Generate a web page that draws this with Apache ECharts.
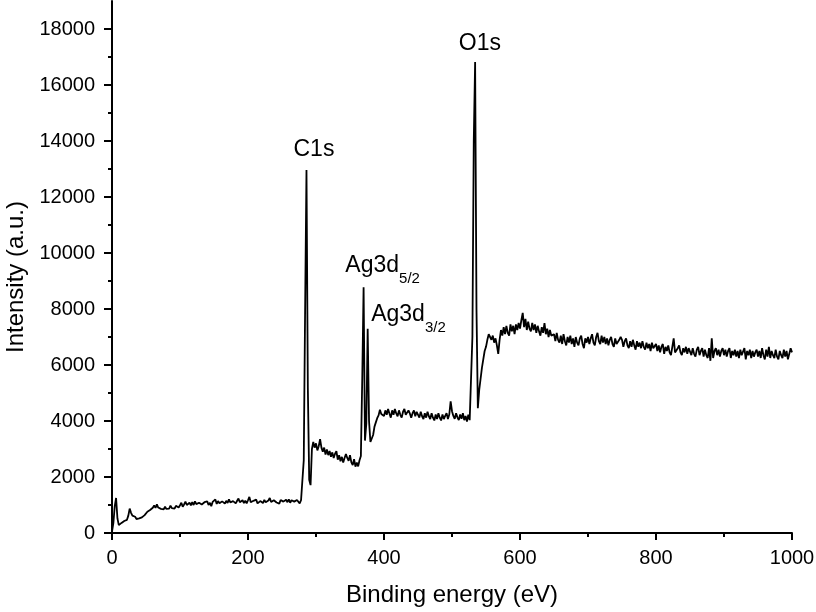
<!DOCTYPE html>
<html>
<head>
<meta charset="utf-8">
<script src="https://cdn.jsdelivr.net/npm/echarts@6/dist/echarts.min.js"></script>
<style>
    html, body { margin: 0; padding: 0; background: #fff; }
    #xps { width: 816px; height: 612px; }
</style>
</head>
<body>
<div id="xps"></div>
<script>
// survey spectrum, one reading every 2 eV from 0 to 1000 eV
var energyStart = 0;
var energyStep = 2;
var counts = [
    // 0 - 48
    50, 350, 950, 1250, 520, 280, 300, 360, 400, 430, 450, 470, 620, 870, 720, 620, 560, 580, 500, 470, 520, 500, 560, 610, 640,
    // 50 - 98
    700, 760, 720, 820, 860, 900, 980, 900, 1020, 910, 970, 860, 920, 840, 940, 860, 920, 870, 980, 890, 940, 870, 970, 1010, 910,
    // 100 - 148
    990, 1080, 940, 1020, 1120, 1000, 970, 1080, 990, 1100, 1000, 1130, 1030, 970, 1080, 1150, 1020, 990, 1100, 1040, 1130, 1000, 1080, 960, 1110,
    // 150 - 198
    1110, 1200, 1040, 1140, 1060, 1030, 1130, 1170, 1050, 1150, 1070, 1200, 1090, 1020, 1140, 1180, 1060, 1150, 1230, 1100, 1040, 1170, 1070, 1150, 1060,
    // 200 - 248
    1170, 1290, 1100, 1040, 1150, 1090, 1190, 1060, 1030, 1140, 1170, 1070, 1180, 1100, 1060, 1160, 1250, 1110, 1040, 1170, 1210, 1090, 1150, 1050, 1180,
    // 250 - 298 (C1s)
    1220, 1120, 1070, 1190, 1100, 1200, 1080, 1170, 1240, 1120, 1070, 1180, 1110, 1060, 1170, 1160, 2600, 8000, 12960, 5200, 1900, 1710, 3000, 3250, 3050,
    // 300 - 348
    3200, 2950, 3100, 3350, 3050, 2900, 3050, 2800, 2980, 2780, 2930, 2720, 2880, 2680, 2830, 2920, 2620, 2780, 2560, 2720, 2520, 2680, 2820, 2680, 2580,
    // 350 - 398 (Ag3d)
    2780, 2520, 2430, 2640, 2370, 2520, 2380, 2600, 2750, 5500, 8780, 3300, 3900, 7290, 4000, 3250, 3200, 3500, 3800, 3950, 4100, 4200, 4400, 4250, 4300,
    // 400 - 448
    4180, 4380, 4220, 4430, 4270, 4120, 4380, 4220, 4430, 4270, 4170, 4380, 4220, 4120, 4330, 4430, 4220, 4170, 4380, 4270, 4120, 4280, 4380, 4170, 4330,
    // 450 - 498
    4280, 4120, 4330, 4170, 4070, 4280, 4120, 4330, 4170, 4070, 4280, 4120, 4020, 4230, 4070, 4280, 4120, 4020, 4230, 4070, 4180, 4280, 4070, 4230, 4700,
    // 500 - 548 (O1s)
    4350, 4180, 4080, 4280, 4130, 4030, 4230, 4080, 4280, 4030, 4180, 3980, 4230, 4030, 4100, 7000, 14000, 16820, 8000, 4460, 5100, 5500, 5900, 6200, 6500,
    // 550 - 598
    6650, 6900, 7100, 7000, 6900, 7050, 6800, 6950, 6700, 6400, 6900, 7250, 7050, 7350, 7100, 7400, 7150, 7050, 7450, 7200, 7400, 7100, 7450, 7250, 7500,
    // 600 - 648
    7300, 7600, 7860, 7350, 7650, 7250, 7550, 7300, 7200, 7500, 7250, 7450, 7150, 7400, 7200, 7050, 7350, 7150, 7500, 7100, 7300, 7000, 7250, 7050, 7000,
    // 650 - 698
    7100, 6850, 7150, 6900, 6800, 7050, 6750, 7100, 6850, 6700, 7000, 6800, 7050, 6750, 6950, 6650, 7000, 6800, 6700, 6950, 7050, 6750, 6600, 6950, 6800,
    // 700 - 748
    7000, 6750, 6950, 7100, 6800, 6700, 7000, 7150, 6850, 6750, 7050, 6800, 7000, 6750, 6950, 6700, 6900, 7000, 6750, 6650, 6950, 6750, 6700, 6900, 7000,
    // 750 - 798
    6900, 6650, 6850, 6950, 6700, 6600, 6850, 6650, 6900, 6700, 6550, 6850, 6650, 6800, 6600, 6850, 6650, 6550, 6800, 6600, 6750, 6500, 6800, 6600, 6550,
    // 800 - 848
    6750, 6500, 6700, 6450, 6650, 6750, 6400, 6650, 6500, 6700, 6450, 6350, 6650, 6950, 6450, 6400, 6600, 6700, 6450, 6350, 6600, 6450, 6650, 6400, 6600,
    // 850 - 898
    6550, 6350, 6600, 6400, 6300, 6550, 6650, 6350, 6500, 6600, 6300, 6550, 6350, 6250, 6600, 6150, 6950, 6250, 6500, 6600, 6350, 6550, 6300, 6500, 6600,
    // 900 - 948
    6350, 6550, 6300, 6500, 6600, 6250, 6500, 6350, 6550, 6300, 6500, 6250, 6550, 6350, 6300, 6600, 6200, 6500, 6350, 6550, 6250, 6500, 6300, 6450, 6550,
    // 950 - 998
    6300, 6500, 6250, 6600, 6350, 6200, 6550, 6300, 6650, 6250, 6500, 6350, 6250, 6550, 6300, 6200, 6500, 6350, 6250, 6550, 6300, 6500, 6200, 6400, 6600,
    // 1000
    6450
];

var yTicks = [0, 2000, 4000, 6000, 8000, 10000, 12000, 14000, 16000, 18000];
var yMinorTicks = [1000, 3000, 5000, 7000, 9000, 11000, 13000, 15000, 17000];

// peak names and where their text sits (eV, counts)
var peakNames = ['C1s', 'Ag3d|5/2', 'Ag3d|3/2', 'O1s'];
var peakTextAt = [[297, 13540], [398, 9390], [436, 7640], [541, 17320]];

var spectrum = [];
$each = function (arr, fn) { for (var i = 0; i < arr.length; i++) fn(i, arr[i]); };
$each(counts, function (i, v) {
    spectrum.push([energyStart + i * energyStep, v]);
});

var peakLabels = [];
$each(peakNames, function (i, n) {
    var parts = n.split('|');
    var text = parts.length > 1 ? '{a|' + parts[0] + '}{s|' + parts[1] + '}' : '{a|' + parts[0] + '}';
    peakLabels.push({ name: n, coord: peakTextAt[i], value: text });
});

var fontFamily = '"Liberation Sans", Arial, Helvetica, sans-serif';
var plain = function (v) { return String(v); };

var myChart = echarts.init(document.getElementById('xps'));

var option = {
    animation: false,
    backgroundColor: '#ffffff',
    textStyle: { fontFamily: fontFamily, color: '#000' },
    grid: {
        left: 112,
        right: 24,
        top: 1,
        bottom: 79,
        outerBoundsMode: 'none'
    },
    xAxis: {
        type: 'value',
        min: 0,
        max: 1000,
        interval: 200,
        name: 'Binding energy (eV)',
        nameLocation: 'middle',
        nameGap: 50,
        nameTextStyle: { fontSize: 24, color: '#000', fontFamily: fontFamily },
        axisLine: { lineStyle: { color: '#000', width: 2 } },
        axisTick: { length: 7, lineStyle: { color: '#000', width: 2 } },
        minorTick: { show: true, splitNumber: 2, length: 4, lineStyle: { color: '#000', width: 2 } },
        axisLabel: { fontSize: 20, color: '#000', margin: 15, fontFamily: fontFamily, formatter: plain },
        splitLine: { show: false },
        minorSplitLine: { show: false }
    },
    yAxis: [
        {
            type: 'value',
            min: 0,
            max: 19000,
            name: 'Intensity (a.u.)',
            nameLocation: 'middle',
            nameGap: 80,
            nameTextStyle: { fontSize: 24, color: '#000', fontFamily: fontFamily, padding: [0, 20, 0, 0] },
            axisLine: { show: true, lineStyle: { color: '#000', width: 2 } },
            axisTick: { show: true, length: 8, customValues: yTicks, lineStyle: { color: '#000', width: 2 } },
            axisLabel: { fontSize: 20, color: '#000', margin: 17, customValues: yTicks, fontFamily: fontFamily, formatter: plain },
            splitLine: { show: false }
        },
        {
            type: 'value',
            min: 0,
            max: 19000,
            position: 'left',
            axisLine: { show: false },
            axisTick: { show: true, length: 4, customValues: yMinorTicks, lineStyle: { color: '#000', width: 2 } },
            axisLabel: { show: false },
            splitLine: { show: false }
        }
    ],
    series: [
        {
            name: 'XPS',
            type: 'line',
            data: spectrum,
            showSymbol: false,
            symbol: 'none',
            lineStyle: { color: '#000', width: 1.8 },
            markPoint: {
                symbol: 'circle',
                symbolSize: 0,
                silent: true,
                label: {
                    show: true,
                    position: 'inside',
                    formatter: function (p) { return p.value; },
                    rich: {
                        a: { fontSize: 23, lineHeight: 32, verticalAlign: 'top', color: '#000', fontFamily: fontFamily },
                        s: { fontSize: 15, lineHeight: 10, verticalAlign: 'bottom', color: '#000', fontFamily: fontFamily }
                    }
                },
                data: peakLabels
            }
        }
    ]
};

myChart.setOption(option, true);
</script>
</body>
</html>
